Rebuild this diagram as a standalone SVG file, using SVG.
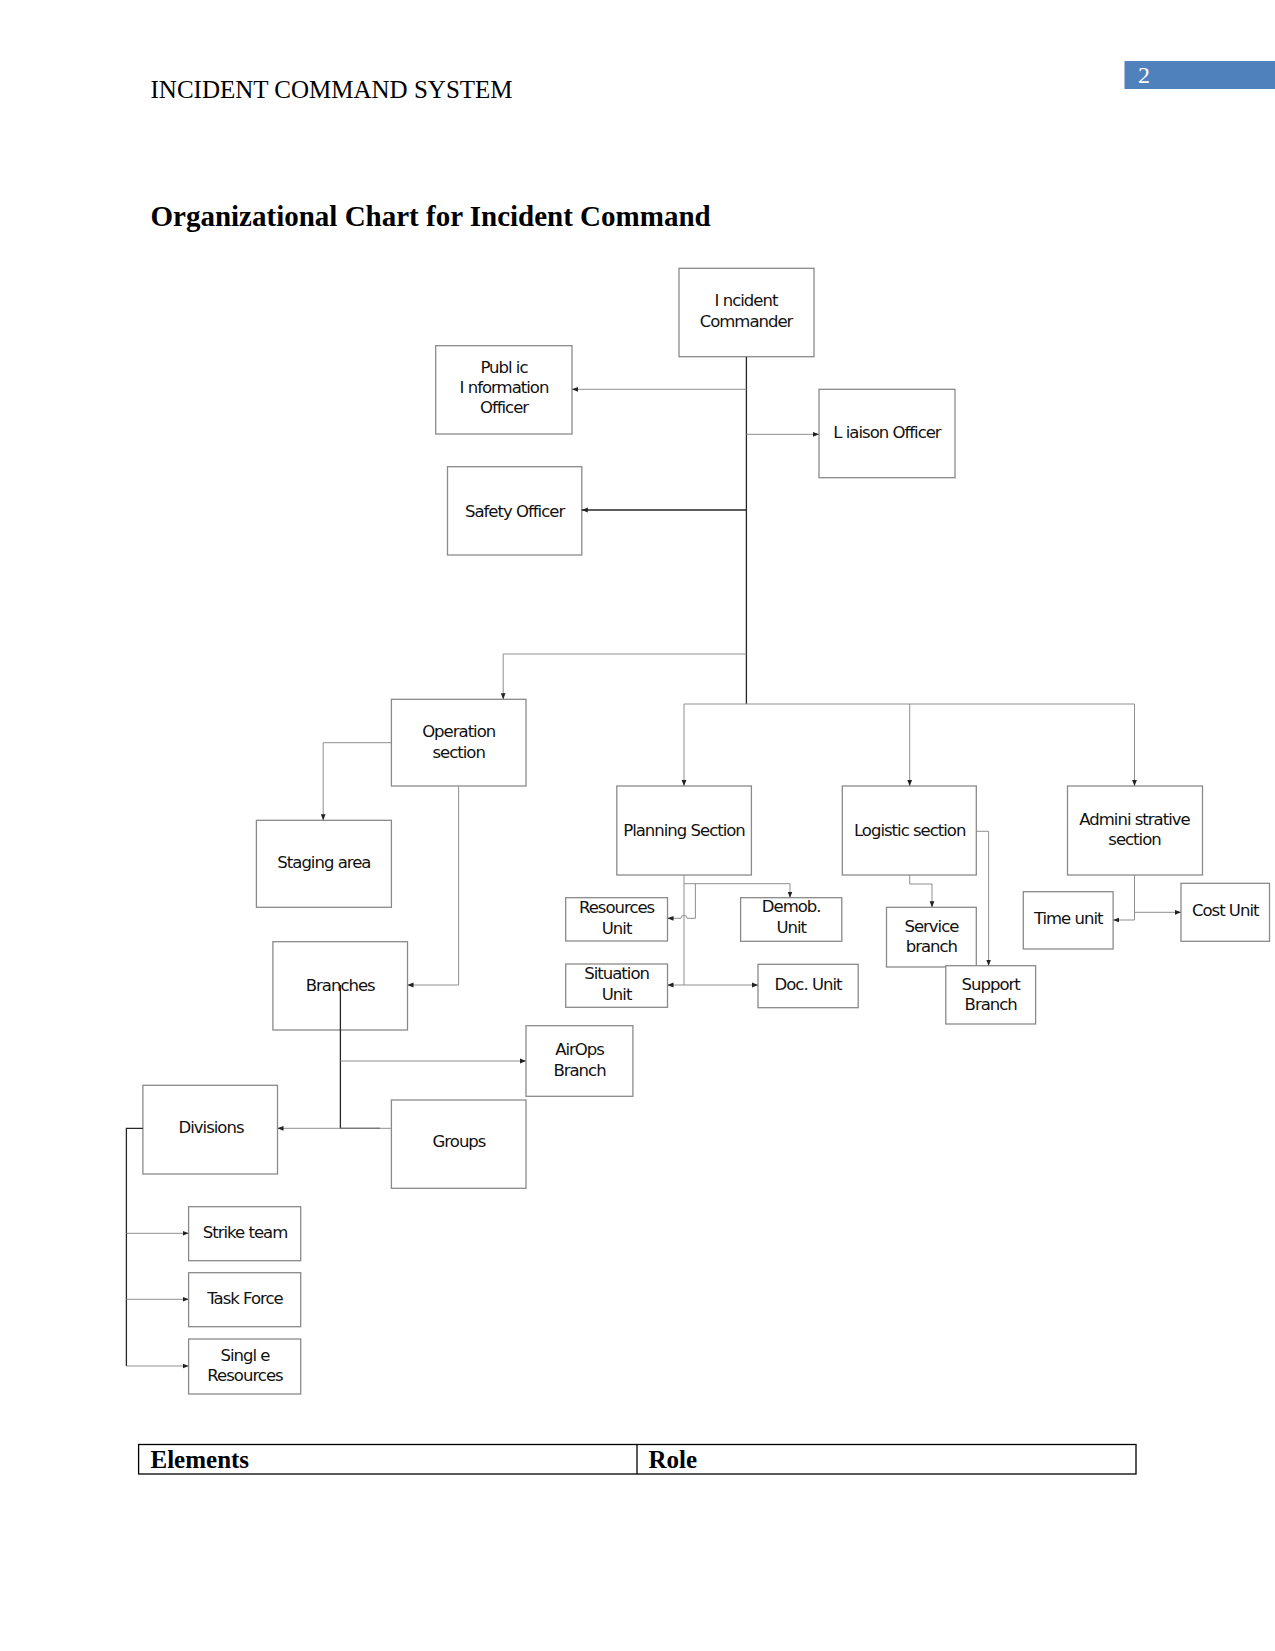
<svg xmlns="http://www.w3.org/2000/svg" width="1275" height="1651" viewBox="0 0 1275 1651">
<style>
.hdr{font-family:"Liberation Serif","Times New Roman",serif;font-size:25px;fill:#000}
.ttl{font-family:"Liberation Serif","Times New Roman",serif;font-size:29px;font-weight:bold;fill:#000}
.th{font-family:"Liberation Serif","Times New Roman",serif;font-size:25px;font-weight:bold;fill:#000}
.box{fill:#fff;stroke:#8a8a8a;stroke-width:1.3}
.lbl{font-family:"DejaVu Sans",Verdana,sans-serif;font-size:16.5px;letter-spacing:-1px;fill:#111;text-anchor:middle}
.c{fill:none;stroke:#8f8f8f;stroke-width:1}
.d{fill:none;stroke:#262626;stroke-width:1.3}
.a{marker-end:url(#ah)}
</style>
<defs>
<marker id="ah" viewBox="0 0 6 6" refX="6" refY="3" markerWidth="6" markerHeight="6" markerUnits="userSpaceOnUse" orient="auto"><path d="M0,0.6 L6,3 L0,5.4z" fill="#222"/></marker>
</defs>
<rect width="1275" height="1651" fill="#fff"/>
<g id="page-header">
<text class="hdr" x="150.5" y="98">INCIDENT COMMAND SYSTEM</text>
<rect x="1124.5" y="61" width="150.5" height="28" fill="#4f81bd"/>
<text x="1138" y="82.5" font-family="Liberation Serif,serif" font-size="24" fill="#fff">2</text>
<text class="ttl" x="150.5" y="226">Organizational Chart for Incident Command</text>
</g>
<g id="incident-commander"><rect class="box" x="679" y="268.3" width="135" height="88.4"/><text class="lbl" x="746" y="306">I ncident</text><text class="lbl" x="746" y="326.7">Commander</text></g>
<g id="public-information-officer"><rect class="box" x="435.7" y="345.7" width="136.3" height="88.3"/><text class="lbl" x="504" y="373.3">Publ ic</text><text class="lbl" x="504" y="393.3">I nformation</text><text class="lbl" x="504" y="413.3">Officer</text></g>
<g id="liaison-officer"><rect class="box" x="819" y="389.3" width="136" height="88.4"/><text class="lbl" x="887" y="438.3">L iaison Officer</text></g>
<g id="safety-officer"><rect class="box" x="447.5" y="466.7" width="134.3" height="88.3"/><text class="lbl" x="514.6" y="516.7">Safety Officer</text></g>
<g id="operation-section"><rect class="box" x="391.4" y="699.3" width="134.6" height="86.7"/><text class="lbl" x="458.7" y="737.3">Operation</text><text class="lbl" x="458.7" y="758.3">section</text></g>
<g id="planning-section"><rect class="box" x="616.8" y="786" width="134.6" height="89"/><text class="lbl" x="684" y="836">Planning Section</text></g>
<g id="logistic-section"><rect class="box" x="842.3" y="786" width="134" height="89"/><text class="lbl" x="909.7" y="835.7">Logistic section</text></g>
<g id="administrative-section"><rect class="box" x="1067.5" y="786" width="135" height="89"/><text class="lbl" x="1134.5" y="825">Admini strative</text><text class="lbl" x="1134.5" y="845">section</text></g>
<g id="staging-area"><rect class="box" x="256.4" y="820.3" width="135" height="87"/><text class="lbl" x="323.9" y="868.3">Staging area</text></g>
<g id="resources-unit"><rect class="box" x="565.7" y="897.7" width="101.8" height="43.3"/><text class="lbl" x="616.6" y="913.3">Resources</text><text class="lbl" x="616.6" y="934">Unit</text></g>
<g id="demob-unit"><rect class="box" x="740.6" y="897.7" width="101.2" height="43.6"/><text class="lbl" x="791.2" y="911.7">Demob.</text><text class="lbl" x="791.2" y="933.3">Unit</text></g>
<g id="situation-unit"><rect class="box" x="565.7" y="964" width="101.8" height="43.3"/><text class="lbl" x="616.6" y="979.3">Situation</text><text class="lbl" x="616.6" y="1000">Unit</text></g>
<g id="doc-unit"><rect class="box" x="758" y="964.3" width="100.2" height="43.4"/><text class="lbl" x="808" y="990">Doc. Unit</text></g>
<g id="service-branch"><rect class="box" x="886.5" y="907.3" width="89.8" height="59.7"/><text class="lbl" x="931.4" y="932.3">Service</text><text class="lbl" x="931.4" y="951.7">branch</text></g>
<g id="support-branch"><rect class="box" x="945.8" y="965.7" width="89.8" height="58.3"/><text class="lbl" x="990.7" y="990">Support</text><text class="lbl" x="990.7" y="1010">Branch</text></g>
<g id="time-unit"><rect class="box" x="1023.3" y="891.7" width="89.8" height="57.3"/><text class="lbl" x="1068.2" y="924">Time unit</text></g>
<g id="cost-unit"><rect class="box" x="1181" y="883.3" width="88.5" height="58"/><text class="lbl" x="1225.2" y="915.7">Cost Unit</text></g>
<g id="branches"><rect class="box" x="272.9" y="941.7" width="134.6" height="88.3"/><text class="lbl" x="340.2" y="990.7">Branches</text></g>
<g id="airops-branch"><rect class="box" x="526" y="1025.7" width="106.9" height="70.6"/><text class="lbl" x="579.5" y="1055">AirOps</text><text class="lbl" x="579.5" y="1075.7">Branch</text></g>
<g id="divisions"><rect class="box" x="142.9" y="1085.3" width="134.6" height="88.7"/><text class="lbl" x="211" y="1133.3">Divisions</text></g>
<g id="groups"><rect class="box" x="391.4" y="1100" width="134.6" height="88.3"/><text class="lbl" x="459" y="1146.7">Groups</text></g>
<g id="strike-team"><rect class="box" x="188.6" y="1206.7" width="112.1" height="54"/><text class="lbl" x="245" y="1238.3">Strike team</text></g>
<g id="task-force"><rect class="box" x="188.6" y="1272.7" width="112.1" height="54"/><text class="lbl" x="245" y="1304">Task Force</text></g>
<g id="single-resources"><rect class="box" x="188.6" y="1339" width="112.1" height="55"/><text class="lbl" x="245" y="1360.7">Singl e</text><text class="lbl" x="245" y="1380.7">Resources</text></g>
<g id="connectors">
<path class="d" d="M746.4,357 V704"/>
<path class="c a" d="M746.4,389.3 H572"/>
<path class="c a" d="M746.4,434.3 H819"/>
<path class="d a" d="M746.4,510 H581.8"/>
<path class="c a" d="M746.4,654 H503.2 V699.3"/>
<path class="c" d="M684,704 H1134.5"/>
<path class="c a" d="M684,704 V786"/>
<path class="c a" d="M909.7,704 V786"/>
<path class="c a" d="M1134.5,704 V786"/>
<path class="c a" d="M391.4,742.7 H323.2 V820.3"/>
<path class="c a" d="M458.6,786 V985 H407.5"/>
<path class="c" d="M684,875 V985"/>
<path class="c a" d="M684,883.7 H790 V897.7"/>
<path class="c a" d="M695.4,883.7 V918.3 H687 A3,3 0 0 0 681,918.3 H667.5"/>
<path class="c a" d="M684,985 H667.5"/>
<path class="c a" d="M684,985 H758"/>
<path class="c a" d="M909.7,875 V884 H932 V907.3"/>
<path class="c a" d="M976.3,831.3 H988.6 V965.7"/>
<path class="c" d="M1134.5,875 V920"/>
<path class="c a" d="M1134.5,912.3 H1181"/>
<path class="c a" d="M1134.5,920 H1113.1"/>
<path class="d" d="M340.4,985 V1128.3 H380"/>
<path class="c a" d="M340.4,1061 H526"/>
<path class="c a" d="M391.4,1128.3 H277.5"/>
<path class="d" d="M142.9,1128.3 H126.4 V1366"/>
<path class="c a" d="M126.4,1233.3 H188.6"/>
<path class="c a" d="M126.4,1299.3 H188.6"/>
<path class="c a" d="M126.4,1366 H188.6"/>
</g>
<g id="table">
<rect x="138.6" y="1444.5" width="997.4" height="29.5" fill="none" stroke="#000" stroke-width="1.3"/>
<line x1="637" y1="1444.5" x2="637" y2="1474" stroke="#000" stroke-width="1.3"/>
<text class="th" x="150.5" y="1468">Elements</text>
<text class="th" x="648.5" y="1468">Role</text>
</g>
</svg>
